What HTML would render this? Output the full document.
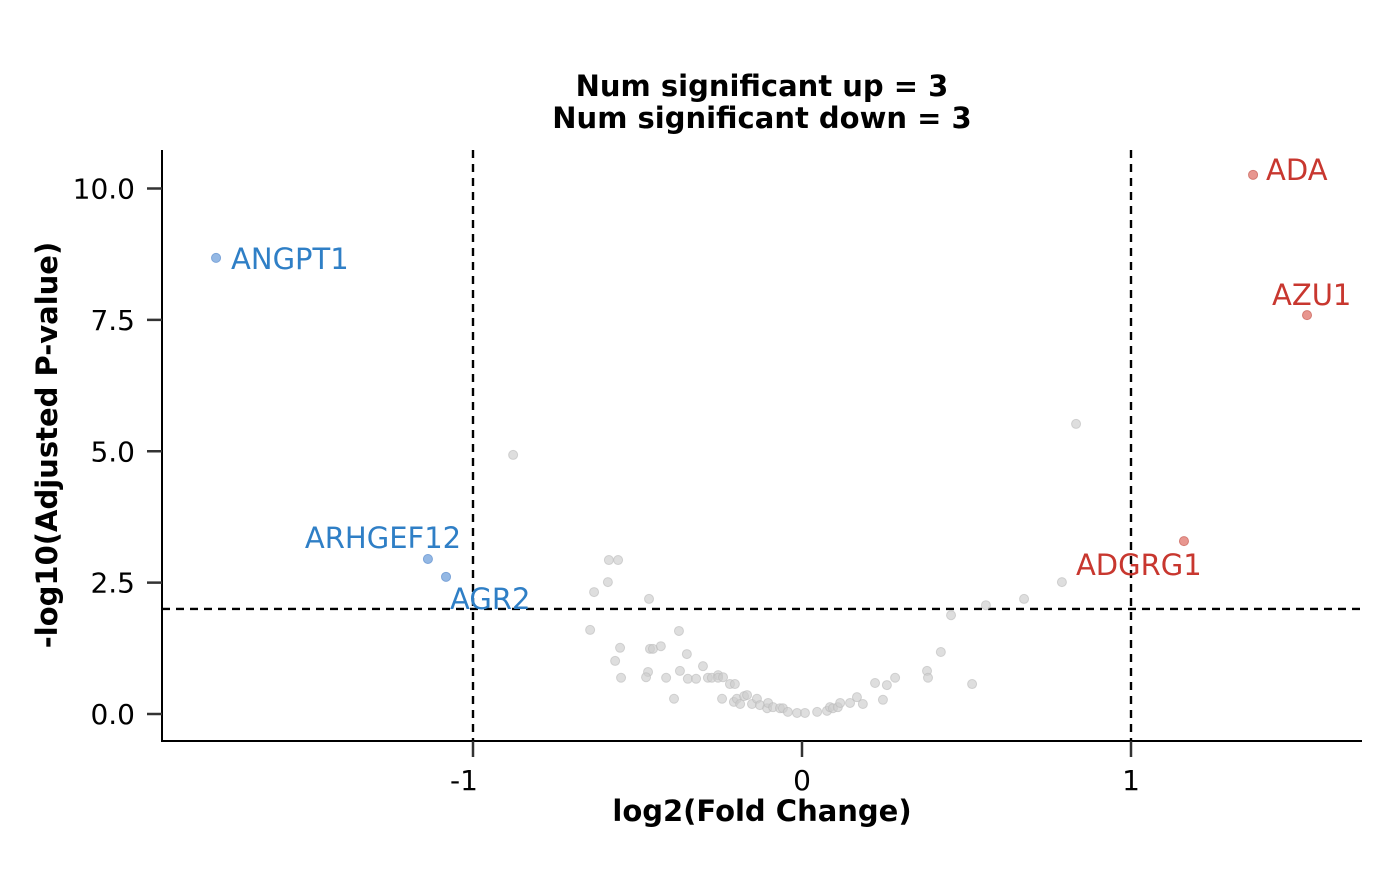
<!DOCTYPE html>
<html><head><meta charset="utf-8"><style>
html,body{margin:0;padding:0;background:#fff;}
svg text{font-family:"DejaVu Sans","Liberation Sans",sans-serif;}
</style></head><body>
<svg id="chart" width="1400" height="865" xmlns="http://www.w3.org/2000/svg">
<rect width="1400" height="865" fill="#fff"/>
<text x="762" y="96" text-anchor="middle" font-size="29" font-weight="bold">Num significant up = 3</text>
<text x="762" y="128" text-anchor="middle" font-size="29" font-weight="bold">Num significant down = 3</text>
<g id="axes"></g>
<g id="marks"></g>
<text x="762" y="821" text-anchor="middle" font-size="29" font-weight="bold">log2(Fold Change)</text>
<text transform="translate(57,445) rotate(-90)" text-anchor="middle" font-size="29" font-weight="bold">-log10(Adjusted P-value)</text>
</svg>
<script>
const greyX=[-0.587,-0.559,-0.590,-0.632,-0.465,0.559,0.675,0.453,-0.644,-0.374,-0.553,-0.462,-0.453,-0.429,-0.350,-0.568,0.422,-0.468,-0.474,-0.550,-0.413,-0.371,-0.347,-0.322,-0.301,-0.286,-0.274,-0.255,-0.255,-0.240,-0.219,-0.204,-0.389,-0.243,-0.207,-0.198,-0.188,-0.176,-0.167,-0.152,-0.137,-0.128,-0.106,-0.103,-0.088,-0.067,-0.058,-0.043,-0.015,0.009,0.046,0.076,0.085,0.094,0.109,0.116,0.146,0.167,0.185,0.222,0.258,0.283,0.246,0.380,0.383,0.517,-0.878,0.833,0.790];
const greyY=[2.93,2.93,2.51,2.32,2.19,2.07,2.19,1.88,1.60,1.58,1.26,1.24,1.24,1.29,1.14,1.01,1.18,0.80,0.70,0.69,0.69,0.82,0.67,0.67,0.91,0.69,0.69,0.74,0.69,0.70,0.57,0.57,0.29,0.29,0.23,0.29,0.19,0.34,0.36,0.19,0.29,0.17,0.11,0.21,0.13,0.11,0.11,0.04,0.02,0.02,0.04,0.06,0.13,0.11,0.13,0.21,0.21,0.32,0.19,0.59,0.55,0.69,0.27,0.82,0.69,0.57,4.93,5.52,2.51];
const sigGenes=["ANGPT1","ARHGEF12","AGR2","ADA","AZU1","ADGRG1"];
const sigX=[-1.781,-1.137,-1.082,1.371,1.535,1.161];
const sigY=[8.68,2.95,2.61,10.26,7.59,3.29];
const xTicks=[-1,0,1];
const xTickLabels=["-1","0","1"];
const yTicks=[0,2.5,5,7.5,10];
const yTickLabels=["0.0","2.5","5.0","7.5","10.0"];
const fcThreshold=1, pThreshold=2;

const NS="http://www.w3.org/2000/svg";
const X=v=>802+v*329, Y=v=>714-v*52.55;
const L=162,R=1362,T=150,B=741;
function mk(tag,attrs,parent,txt){const e=document.createElementNS(NS,tag);for(const k in attrs)e.setAttribute(k,attrs[k]);if(txt!==undefined)e.textContent=txt;parent.appendChild(e);return e;}
const ax=document.getElementById('axes'), mg=document.getElementById('marks');
let e;
e=mk('line',{x1:L,y1:T,x2:L,y2:B,stroke:'#000','stroke-width':2},ax);


e=mk('line',{x1:L-1,y1:B,x2:R,y2:B,stroke:'#000','stroke-width':2},ax);


xTicks.forEach((t,i)=>{
 e=mk('line',{x1:X(t),y1:B,x2:X(t),y2:B+16,stroke:'#333','stroke-width':2.5},ax);
 
 
 e=mk('text',{x:X(t)-(t<0?9:0),y:B+49,'text-anchor':'middle','font-size':28},ax,xTickLabels[i]);
 
 
});
yTicks.forEach((t,i)=>{
 e=mk('line',{x1:L-15,y1:Y(t),x2:L,y2:Y(t),stroke:'#333','stroke-width':2.5},ax);
 
 
 e=mk('text',{x:L-27,y:Y(t)+10,'text-anchor':'end','font-size':28},ax,yTickLabels[i]);
 
 
});
[-fcThreshold,fcThreshold].forEach(v=>{
 e=mk('line',{x1:X(v),y1:T,x2:X(v),y2:B,stroke:'#000','stroke-width':2.4,'stroke-dasharray':'8,6'},ax);
 
 
});
e=mk('line',{x1:L,y1:Y(pThreshold),x2:R,y2:Y(pThreshold),stroke:'#000','stroke-width':2.4,'stroke-dasharray':'8,6'},ax);


greyX.forEach((x,i)=>{
 e=mk('circle',{cx:X(x),cy:Y(greyY[i]),r:4.5,fill:'#cccccc','fill-opacity':0.65,stroke:'#bbb','stroke-opacity':0.6,'stroke-width':1},mg);
 
 
});
const labOff=[[15,11],[-123,-11],[4,32],[13,5],[-35,-10],[-108,34]];
sigGenes.forEach((g,i)=>{
 const up=sigX[i]>0;
 e=mk('circle',{cx:X(sigX[i]),cy:Y(sigY[i]),r:4.5,fill:up?'#e8968f':'#94b8e4',stroke:up?'#d47a72':'#7aa3d8','stroke-width':1},mg);
 
 
 e=mk('text',{x:X(sigX[i])+labOff[i][0],y:Y(sigY[i])+labOff[i][1],'font-size':29,fill:up?'#c8372f':'#2f7fc6'},mg,g);
 
 
});
</script>
</body></html>
